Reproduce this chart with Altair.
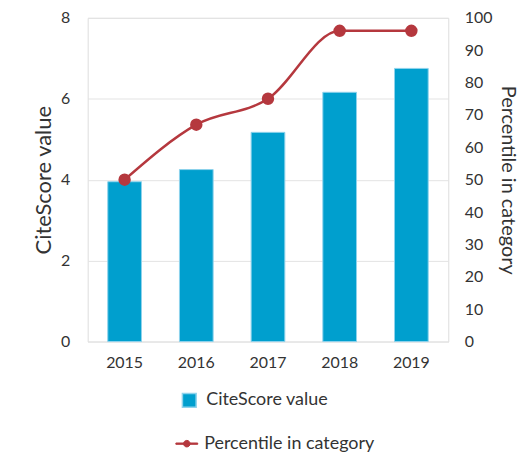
import altair as alt
import pandas as pd

years = ["2015", "2016", "2017", "2018", "2019"]
citescore = [3.95, 4.25, 5.17, 6.16, 6.75]
percentile = [50, 67, 75, 96, 96]

df = pd.DataFrame({"year": years, "CiteScore": citescore, "Percentile": percentile})
df["s1"] = "CiteScore value"
df["s2"] = "Percentile in category"

BLUE = "#009FCE"
RED = "#B5383E"
FONT = "Lato"

x = alt.X("year:N", title=None,
          scale=alt.Scale(paddingInner=0.53, paddingOuter=0.28),
          axis=alt.Axis(labelAngle=0, ticks=False, domain=False, grid=False,
                        labelPadding=13, labelFontSize=16, labelColor="#333333",
                        labelFont=FONT))

bars = alt.Chart(df).mark_bar(stroke="#8fd3ec", strokeWidth=1).encode(
    x=x,
    y=alt.Y("CiteScore:Q", scale=alt.Scale(domain=[0, 8]),
            axis=alt.Axis(values=[0, 2, 4, 6, 8], title="CiteScore value", ticks=False,
                          domain=False, grid=True, gridColor="#e3e3e3", gridWidth=1,
                          labelPadding=18, labelFontSize=16, labelColor="#333333",
                          labelFont=FONT, titleFont=FONT, titleFontSize=22,
                          titleFontWeight="normal", titleColor="#333333", titlePadding=5)),
    color=alt.Color("s1:N", scale=alt.Scale(range=[BLUE]),
                    legend=alt.Legend(title=None, orient="none", legendX=93, legendY=375,
                                      symbolType="square", symbolSize=190,
                                      labelFont=FONT, labelFontSize=18, labelColor="#333333",
                                      padding=0, labelOffset=8, labelLimit=300)),
)

line = alt.Chart(df).mark_line(
    interpolate="monotone", strokeWidth=2.5,
    point=alt.OverlayMarkDef(filled=True, size=110, color=RED, opacity=1),
).encode(
    x=x,
    y=alt.Y("Percentile:Q", scale=alt.Scale(domain=[0, 100]),
            axis=alt.Axis(orient="right", values=list(range(0, 101, 10)),
                          title="Percentile in category", ticks=False, domain=False,
                          grid=False, labelPadding=16, labelFontSize=16,
                          labelColor="#333333", labelFont=FONT, titleFont=FONT,
                          titleFontSize=20, titleFontWeight="normal",
                          titleColor="#333333", titlePadding=6)),
    stroke=alt.Stroke("s2:N", scale=alt.Scale(range=[RED]),
                      legend=alt.Legend(title=None, orient="none", legendX=88, legendY=416,
                                        symbolType="M-1,-0.06H1V0.06H-1Z M0.3,0A0.3,0.3 0 1 1 -0.3,0A0.3,0.3 0 1 1 0.3,0Z",
                                        symbolSize=480, symbolFillColor=RED,
                                        symbolStrokeColor=RED, symbolStrokeWidth=1,
                                        labelFont=FONT, labelFontSize=18, labelLimit=300,
                                        labelColor="#333333", padding=0, labelOffset=6)),
)

chart = alt.layer(bars, line).resolve_scale(y="independent", color="independent").properties(
    width=362, height=325, padding={"left": 24, "top": 1, "right": 2, "bottom": 0}
).configure_view(stroke="#c9c9c9", strokeWidth=2).configure(background="white")

chart.save("out.html", embed_options={"renderer": "svg", "actions": False})
